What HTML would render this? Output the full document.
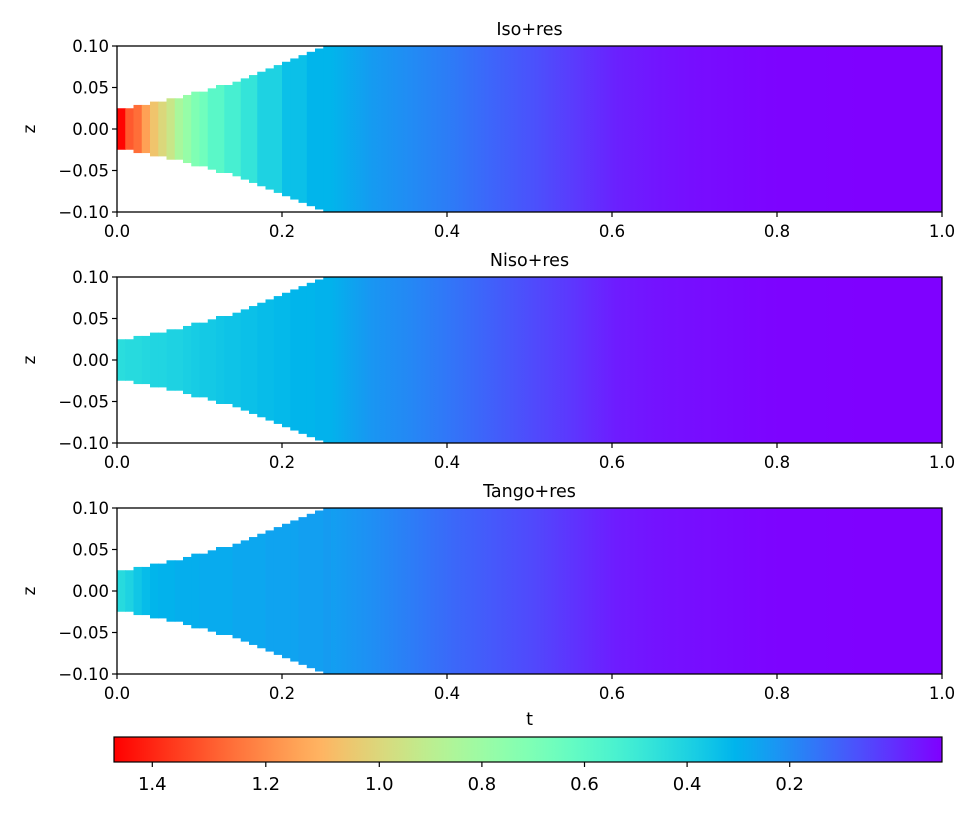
<!DOCTYPE html>
<html><head><meta charset="utf-8"><style>
html,body{margin:0;padding:0;background:#fff;}
svg text{font-family:"DejaVu Sans","Liberation Sans",sans-serif;fill:#000;}
</style></head><body>
<svg id="fig" width="975" height="815" viewBox="0 0 975 815" xmlns="http://www.w3.org/2000/svg"></svg>
<script>
const titles = ["Iso+res","Niso+res","Tango+res"];
const halfWidth = [0.025,0.025,0.029,0.029,0.033,0.033,0.037,0.037,0.041,0.045,0.045,0.049,0.053,0.053,0.057,0.061,0.065,0.069,0.073,0.077,0.081,0.085,0.089,0.093,0.097,0.1];
const headValues1 = [1.46,1.30,1.26,1.15,1.06,1.00,0.94,0.84,0.78,0.71,0.66,0.59,0.59,0.53,0.53,0.47,0.47,0.40,0.40,0.40,0.34,0.34,0.34,0.31,0.31,0.31];
const headValues2 = [0.44,0.43,0.43,0.42,0.41,0.41,0.40,0.40,0.39,0.38,0.37,0.37,0.36,0.35,0.35,0.34,0.34,0.33,0.33,0.32,0.32,0.31,0.31,0.31,0.30,0.30];
const headValues3 = [0.43,0.40,0.36,0.33,0.31,0.30,0.30,0.29,0.29,0.29,0.28,0.28,0.28,0.28,0.27,0.27,0.27,0.27,0.26,0.26,0.26,0.26,0.25,0.25,0.25,0.24];
const tailT = [0.25,0.3,0.35,0.4,0.45,0.5,0.55,0.6,0.65,0.7,0.75,0.8,0.85,0.9,0.95,1.0];
const tailValues1 = [0.31,0.24,0.20,0.16,0.11,0.07,0.02,-0.03,-0.055,-0.07,-0.08,-0.09,-0.09,-0.095,-0.095,-0.095];
const tailValues2 = [0.30,0.227,0.19,0.145,0.10,0.055,0.01,-0.04,-0.06,-0.07,-0.08,-0.09,-0.09,-0.095,-0.095,-0.095];
const tailValues3 = [0.25,0.21,0.165,0.12,0.085,0.05,0.005,-0.04,-0.06,-0.07,-0.08,-0.09,-0.09,-0.095,-0.095,-0.095];
const xTicks = [0.0,0.2,0.4,0.6,0.8,1.0];
const xTickLabels = ["0.0","0.2","0.4","0.6","0.8","1.0"];
const yTicks = [0.10,0.05,0.00,-0.05,-0.10];
const yTickLabels = ["0.10","0.05","0.00","\u22120.05","\u22120.10"];
const cbTicks = [1.4,1.2,1.0,0.8,0.6,0.4,0.2];
const cbTickLabels = ["1.4","1.2","1.0","0.8","0.6","0.4","0.2"];

const heads=[headValues1,headValues2,headValues3];
const tails=[tailValues1,tailValues2,tailValues3];
const NS="http://www.w3.org/2000/svg";
const svg=document.getElementById('fig');
function el(tag,attrs,parent){const e=document.createElementNS(NS,tag);for(const k in attrs)e.setAttribute(k,attrs[k]);(parent||svg).appendChild(e);return e;}
const AX_L=117, AX_R=942, AX_H=166, TOPS=[46,277,508];
const CB_L=114, CB_R=942, CB_T=737, CB_B=762;
function cbx(v){return v>=1 ? 379.3-(v-1)*567.5 : 379.3+(1-v)*513;}
function rainbow(f){f=Math.max(0,Math.min(1,f));const r=Math.min(1,Math.abs(2*f-0.5)),g=Math.sin(Math.PI*f),b=Math.cos(Math.PI*f/2);return `rgb(${Math.round(r*255)},${Math.round(g*255)},${Math.round(b*255)})`;}
function color(v){return rainbow((CB_R-cbx(v))/(CB_R-CB_L));}
const defs=el('defs',{});
for(let p=0;p<3;p++){
  const top=TOPS[p];
  const sx=t=>AX_L+t*(AX_R-AX_L);
  const sy=z=>top+(0.1-z)/0.2*AX_H;
  const g=el('g',{});
  
  
  const clip=el('clipPath',{id:'clip'+p},defs);
  el('rect',{x:AX_L,y:top,width:AX_R-AX_L,height:AX_H},clip);
  const mesh=el('g',{'clip-path':'url(#clip'+p+')'},g);
  
  
  for(let i=0;i<heads[p].length;i++){
    const t0=i*0.01, hw=halfWidth[i];
    const r=el('rect',{x:sx(t0),y:sy(hw),width:sx(t0+0.01)-sx(t0)+0.6,height:sy(-hw)-sy(hw),fill:color(heads[p][i])},mesh);
    
    
  }
  const grad=el('linearGradient',{id:'tail'+p,x1:'0',x2:'1',y1:'0',y2:'0'},defs);
  const t0=tailT[0], t1=tailT[tailT.length-1];
  for(let i=0;i<tailT.length;i++){
    el('stop',{offset:(tailT[i]-t0)/(t1-t0),'stop-color':color(tails[p][i])},grad);
  }
  const tr=el('rect',{x:sx(t0+0.01)-0.5,y:top,width:sx(t1)-sx(t0+0.01)+0.5,height:AX_H,fill:'url(#tail'+p+')'},mesh);
  
  
  const fr=el('rect',{x:AX_L,y:top,width:AX_R-AX_L,height:AX_H,fill:'none',stroke:'#000','stroke-width':1.3},g);
  
  
  xTicks.forEach((t,i)=>{
    el('line',{x1:sx(t),x2:sx(t),y1:top+AX_H,y2:top+AX_H+5,stroke:'#000','stroke-width':1.2},g);
    const tx=el('text',{x:sx(t),y:top+AX_H+25,'font-size':16.5,'text-anchor':'middle'},g);
    tx.textContent=xTickLabels[i];
    
    
  });
  yTicks.forEach((z,i)=>{
    el('line',{x1:AX_L-5,x2:AX_L,y1:sy(z),y2:sy(z),stroke:'#000','stroke-width':1.2},g);
    const tx=el('text',{x:AX_L-8,y:sy(z)+6,'font-size':16.5,'text-anchor':'end'},g);
    tx.textContent=yTickLabels[i];
    
    
  });
  const yl=el('text',{x:35,y:top+AX_H/2,'font-size':16.5,'text-anchor':'middle',transform:`rotate(-90 35 ${top+AX_H/2})`},g);
  yl.textContent='z';
  
  
  const ti=el('text',{x:(AX_L+AX_R)/2,y:top-11,'font-size':17.5,'text-anchor':'middle'},g);
  ti.textContent=titles[p];
  
  
}
const xl=el('text',{x:(AX_L+AX_R)/2,y:725,'font-size':17.5,'text-anchor':'middle'});
xl.textContent='t';


const cg=el('linearGradient',{id:'cbgrad',x1:'0',x2:'1',y1:'0',y2:'0'},defs);
for(let i=0;i<=40;i++){el('stop',{offset:i/40,'stop-color':rainbow(1-i/40)},cg);}
const cb=el('rect',{x:CB_L,y:CB_T,width:CB_R-CB_L,height:CB_B-CB_T,fill:'url(#cbgrad)',stroke:'#000','stroke-width':1.2});


cbTicks.forEach((v,i)=>{
  el('line',{x1:cbx(v),x2:cbx(v),y1:CB_B,y2:CB_B+5,stroke:'#000','stroke-width':1.2});
  const tx=el('text',{x:cbx(v),y:CB_B+28,'font-size':18,'text-anchor':'middle'});
  tx.textContent=cbTickLabels[i];
  
  
});
</script>
</body></html>
